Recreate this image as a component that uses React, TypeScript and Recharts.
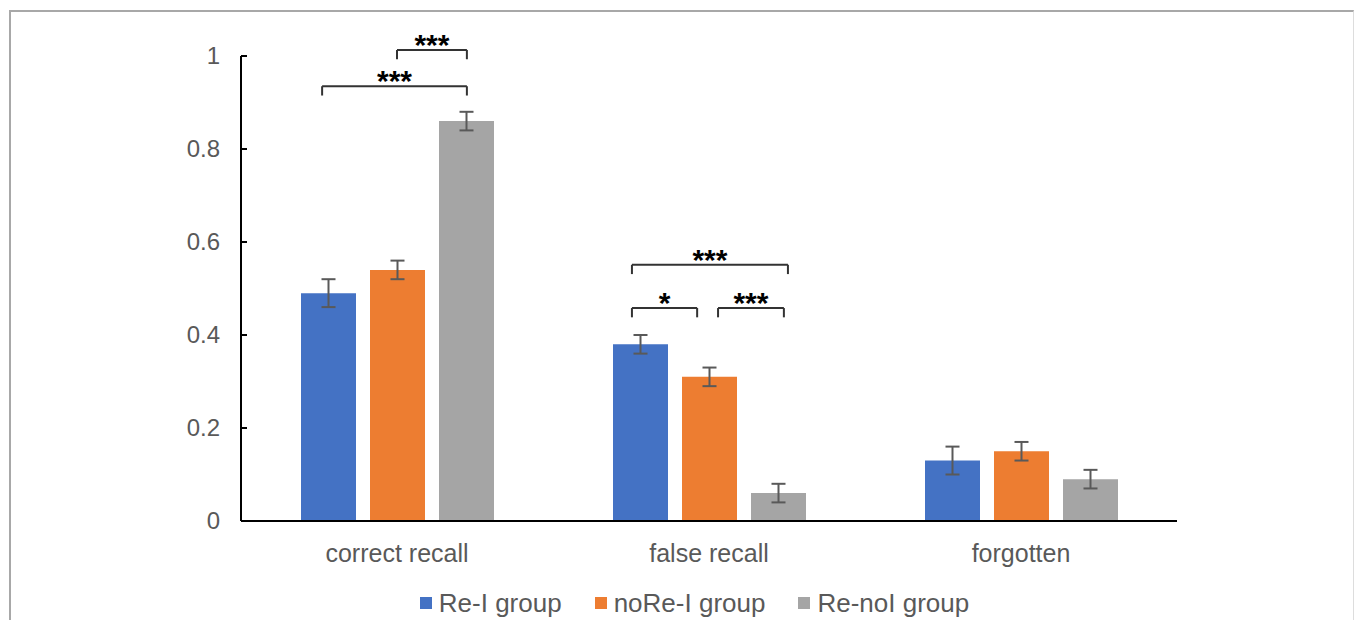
import { BarChart, Bar, XAxis, YAxis, ErrorBar, Legend, ReferenceLine } from "recharts";

const categories = ["correct recall", "false recall", "forgotten"];
const groups = ["Re-I group", "noRe-I group", "Re-noI group"];
const colors = ["#4472C4", "#ED7D31", "#A5A5A5"];

const reIMean = [0.49, 0.38, 0.13];
const reIErr = [0.03, 0.02, 0.03];
const noReIMean = [0.54, 0.31, 0.15];
const noReIErr = [0.02, 0.02, 0.02];
const reNoIMean = [0.86, 0.06, 0.09];
const reNoIErr = [0.02, 0.02, 0.02];

const yTicks = [0, 0.2, 0.4, 0.6, 0.8, 1];

// significance brackets: x in category units (0..3), y in data units
const brackets = [
  { x1: 0.26, x2: 0.724, y: 0.935, label: "***" },
  { x1: 0.5, x2: 0.724, y: 1.013, label: "***" },
  { x1: 1.253, x2: 1.753, y: 0.551, label: "***" },
  { x1: 1.253, x2: 1.462, y: 0.458, label: "*" },
  { x1: 1.529, x2: 1.74, y: 0.458, label: "***" },
];
const drop = 0.02;

const data = categories.map((name, i) => ({
  name,
  pos: i + 0.5,
  a: reIMean[i],
  aErr: reIErr[i],
  b: noReIMean[i],
  bErr: noReIErr[i],
  c: reNoIMean[i],
  cErr: reNoIErr[i],
}));

const font = "'Liberation Sans', Arial, sans-serif";

const YTick = (props: any) => {
  const { x, y, payload } = props;
  return (
    <g>
      <line x1={x + 21} x2={x + 27} y1={y} y2={y} stroke="#000" strokeWidth={2} />
      <text x={x} y={y} dy={8} textAnchor="end" fill="#595959" fontSize={24} fontFamily={font}>
        {payload.value}
      </text>
    </g>
  );
};

const LegendContent = () => (
  <div
    style={{
      display: "flex",
      justifyContent: "center",
      alignItems: "center",
      height: 30,
      paddingLeft: 34,
      fontSize: 26,
      color: "#595959",
      fontFamily: font,
    }}
  >
    {groups.map((g, i) => (
      <div key={g} style={{ display: "flex", alignItems: "center", marginRight: i < 2 ? 33 : 0 }}>
        <span style={{ display: "inline-block", width: 12, height: 12, background: colors[i], marginRight: 7 }} />
        <span>{g}</span>
      </div>
    ))}
  </div>
);

export default function App() {
  return (
    <div style={{ position: "absolute", left: 0, top: 0, width: 1355, height: 620, overflow: "hidden", background: "#fff" }}>
      <div
        style={{
          position: "absolute",
          left: 9,
          top: 10,
          width: 1345,
          height: 620,
          boxSizing: "border-box",
          borderTop: "2px solid #a8a8a8",
          borderLeft: "2px solid #a8a8a8",
          borderRight: "1px solid #dddddd",
        }}
      />
      <div style={{ position: "absolute", left: 0, top: 0 }}>
        <BarChart
          width={1355}
          height={620}
          data={data}
          margin={{ top: 56, right: 178, left: 161, bottom: 29 }}
          barSize={55}
          barGap={14}
        >
          <XAxis
            dataKey="name"
            height={40}
            tickLine={false}
            tickSize={0}
            tickMargin={23}
            axisLine={{ stroke: "#000", strokeWidth: 2 }}
            tick={{ fill: "#595959", fontSize: 25, fontFamily: font }}
          />
          <XAxis xAxisId="n" dataKey="pos" type="number" domain={[0, categories.length]} hide allowDataOverflow />
          <YAxis
            width={80}
            domain={[0, 1]}
            ticks={yTicks}
            tickLine={false}
            tickSize={0}
            tickMargin={21}
            axisLine={{ stroke: "#000", strokeWidth: 2 }}
            tick={<YTick />}
          />
          <Legend
            verticalAlign="bottom"
            content={<LegendContent />}
            wrapperStyle={{ left: 0, width: 1355, top: 588, bottom: "auto", height: 30 }}
          />
          <Bar dataKey="a" name={groups[0]} fill={colors[0]} isAnimationActive={false}>
            <ErrorBar dataKey="aErr" width={7} strokeWidth={2} stroke="#595959" />
          </Bar>
          <Bar dataKey="b" name={groups[1]} fill={colors[1]} isAnimationActive={false}>
            <ErrorBar dataKey="bErr" width={7} strokeWidth={2} stroke="#595959" />
          </Bar>
          <Bar dataKey="c" name={groups[2]} fill={colors[2]} isAnimationActive={false}>
            <ErrorBar dataKey="cErr" width={7} strokeWidth={2} stroke="#595959" />
          </Bar>
          {brackets.map((b, i) => [
            <ReferenceLine
              key={`h${i}`}
              xAxisId="n"
              ifOverflow="visible"
              segment={[
                { x: b.x1, y: b.y },
                { x: b.x2, y: b.y },
              ]}
              stroke="#333"
              strokeWidth={2}
              label={{
                value: b.label,
                position: "top",
                offset: -5,
                fill: "#000",
                fontSize: 30,
                fontWeight: 700,
                fontFamily: font,
              }}
            />,
            <ReferenceLine
              key={`l${i}`}
              xAxisId="n"
              ifOverflow="visible"
              segment={[
                { x: b.x1, y: b.y },
                { x: b.x1, y: b.y - drop },
              ]}
              stroke="#333"
              strokeWidth={2}
            />,
            <ReferenceLine
              key={`r${i}`}
              xAxisId="n"
              ifOverflow="visible"
              segment={[
                { x: b.x2, y: b.y },
                { x: b.x2, y: b.y - drop },
              ]}
              stroke="#333"
              strokeWidth={2}
            />,
          ])}
        </BarChart>
      </div>
    </div>
  );
}
